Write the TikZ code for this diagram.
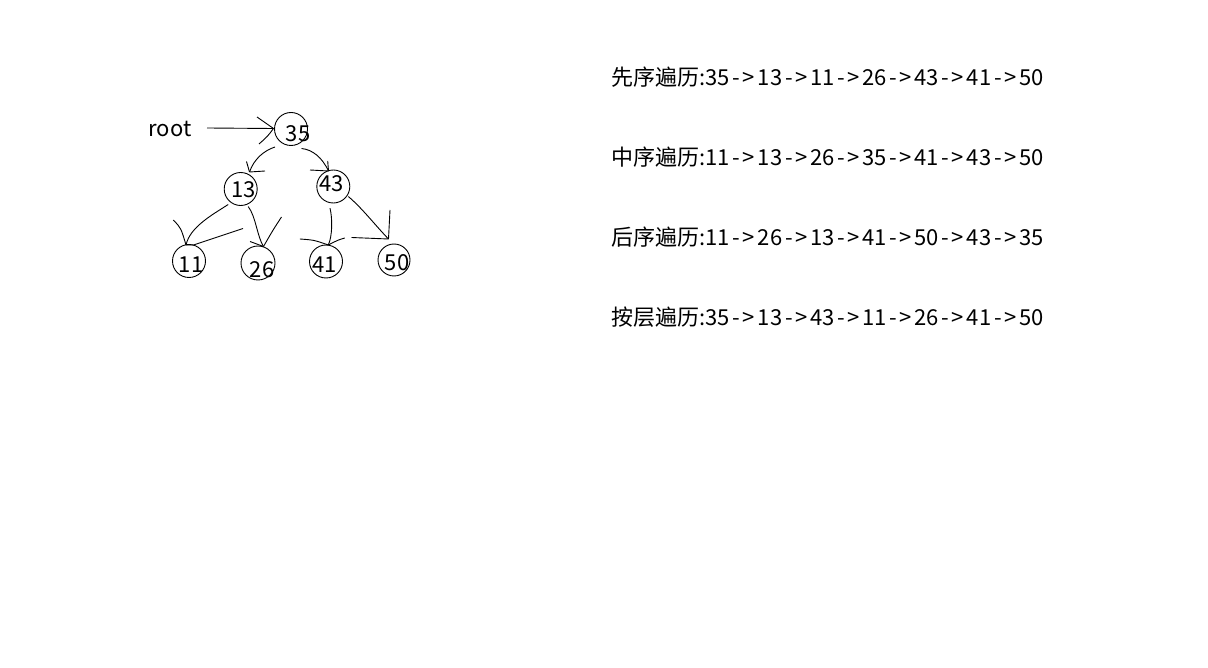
\documentclass[tikz,border=0pt]{standalone}
\usepackage{fontspec}
\setmainfont{Noto Sans CJK SC}
\newcommand{\myarr}{\kern2.8pt-\kern2.4pt>\kern2.8pt}
\begin{document}
\begin{tikzpicture}[x=1pt,y=-1pt,line width=0.9pt,
  circ/.style={draw,circle,minimum size=33pt,inner sep=0pt},
  num/.style={font=\fontsize{22}{25}\selectfont,inner sep=0pt},
  trav/.style={font=\fontsize{22}{26}\selectfont,anchor=west,inner sep=0pt},
  stroke/.style={line width=0.9pt}]
\useasboundingbox[fill=white] (0,0) rectangle (1208,668);

% tree nodes
\node[circ] (c35) at (291,129) {};
\node[circ] (c13) at (240.7,189) {};
\node[circ] (c43) at (333.3,186.5) {};
\node[circ,minimum size=33pt] (c11) at (189,261) {};
\node[circ,minimum size=34pt] (c26) at (258,263) {};
\node[circ,minimum size=33pt] (c41) at (326,261.5) {};
\node[circ,minimum size=32pt] (c50) at (394,260) {};

\node[num] (t35) at (298,134) {35};
\node[num] (t13) at (243.5,190) {13};
\node[num] (t43) at (331.5,184) {43};
\node[num] (t11) at (191,265) {11};
\node[num] (t26) at (262,270) {26};
\node[num] (t41) at (324.5,265) {41};
\node[num] (t50) at (397,262.5) {50};

\node[num] (rootlbl) at (170,129) {root};

% arrow tips
\coordinate (p35) at ([shift={(-17.5,-0.5)}]c35.center);
\coordinate (p13) at ([shift={(8.8,-17)}]c13.center);
\coordinate (p43) at ([shift={(-4.8,-15.5)}]c43.center);
\coordinate (p11) at ([shift={(-3,-16)}]c11.center);
\coordinate (p26) at ([shift={(5.5,-16.5)}]c26.center);
\coordinate (p41) at ([shift={(2.3,-16.5)}]c41.center);
\coordinate (p50) at ([shift={(-5.5,-21)}]c50.center);

% root arrow
\draw[stroke] ([shift={(37,-1)}]rootlbl.center) -- (p35);
\draw[stroke] ([shift={(-16.5,-11.5)}]p35) -- (p35);
\draw[stroke] ([shift={(-14.5,15.5)}]p35) .. controls ([shift={(-6,8)}]p35) .. (p35);

% 35 -> 13
\draw[stroke] ([shift={(-16,18)}]c35.center) .. controls (264,150.5) and (254,159) .. (p13);
\draw[stroke] ([shift={(-3,-10.5)}]p13) -- (p13);
\draw[stroke] ([shift={(15.5,-1)}]p13) -- (p13);

% 35 -> 43
\draw[stroke] ([shift={(10.5,19.5)}]c35.center) .. controls (312,149.5) and (322,157) .. (p43);
\draw[stroke] ([shift={(-0.8,-10)}]p43) -- (p43);
\draw[stroke] ([shift={(-18.5,-1)}]p43) -- (p43);

% 13 -> 11
\draw[stroke] ([shift={(-12.5,15.5)}]c13.center) .. controls (212,215) and (190,227) .. (p11);
\draw[stroke] ([shift={(-12.7,-25)}]p11) .. controls (181,228) .. (p11);
\draw[stroke] (p11) -- ([shift={(7.5,0)}]p11) -- ([shift={(57,-16.5)}]p11);

% 13 -> 26
\draw[stroke] ([shift={(7.5,17.5)}]c13.center) .. controls (256,217) and (257,236) .. (p26);
\draw[stroke] ([shift={(-13.5,-5)}]p26) -- (p26);
\draw[stroke] ([shift={(18,-29.5)}]p26) .. controls (273,230) .. (p26);

% 43 -> 41
\draw[stroke] ([shift={(-3.3,21.7)}]c43.center) .. controls (332.5,218) and (332.5,236) .. (p41);
\draw[stroke] ([shift={(-28.5,-6)}]p41) .. controls (314,240) .. (p41);
\draw[stroke] ([shift={(16.5,-7)}]p41) .. controls (338,240) .. (p41);

% 43 -> 50
\draw[stroke] ([shift={(15,10)}]c43.center) .. controls (362,208) and (375,225) .. (p50);
\draw[stroke] ([shift={(1.5,-29)}]p50) -- (p50);
\draw[stroke] ([shift={(-37,-1.5)}]p50) -- (p50);

% traversals
\node[trav] (pre)  at (611,77)  {先序遍历:35\myarr 13\myarr 11\myarr 26\myarr 43\myarr 41\myarr 50};
\node[trav] (in)   at (611,157) {中序遍历:11\myarr 13\myarr 26\myarr 35\myarr 41\myarr 43\myarr 50};
\node[trav] (post) at (611,237) {后序遍历:11\myarr 26\myarr 13\myarr 41\myarr 50\myarr 43\myarr 35};
\node[trav] (lvl)  at (611,317) {按层遍历:35\myarr 13\myarr 43\myarr 11\myarr 26\myarr 41\myarr 50};
\end{tikzpicture}
\end{document}
